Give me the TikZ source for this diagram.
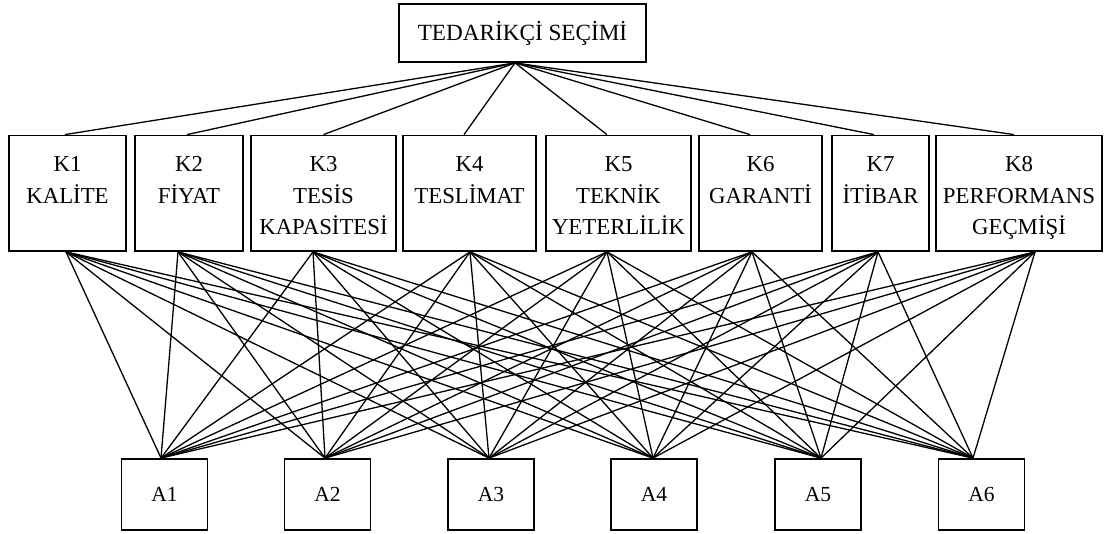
\documentclass[tikz,border=0pt]{standalone}
\usepackage{fontspec}
\setmainfont{Liberation Serif}
\begin{document}
\begin{tikzpicture}[x=1pt,y=-1pt,
  box/.style={draw, line width=1.8pt, inner sep=0pt},
  crit/.style={box, minimum height=115.5pt},
  alt/.style={box, minimum width=86pt, minimum height=71pt, font=\fontsize{21.5}{26}\selectfont},
  lbl/.style={align=center, inner sep=0pt, anchor=base, font=\fontsize{22.8}{31.5}\selectfont},
  link/.style={line width=1.3pt}]
\useasboundingbox (0,0) rectangle (1109,534);
\fill[white] (0,0) rectangle (1109,534);

% goal
\node[box, minimum width=247pt, minimum height=58pt, font=\fontsize{23.2}{28}\selectfont,
      text height=15.5pt, text depth=0pt] (T) at (522.5,33) {TEDARİKÇİ SEÇİMİ};

% criteria boxes
\node[crit, minimum width=117pt] (K1) at (67.5,193.25) {};
\node[crit, minimum width=108pt] (K2) at (189,193.25) {};
\node[crit, minimum width=145pt] (K3) at (323.5,193.25) {};
\node[crit, minimum width=133pt] (K4) at (469.5,193.25) {};
\node[crit, minimum width=145pt] (K5) at (618.5,193.25) {};
\node[crit, minimum width=123pt] (K6) at (760.5,193.25) {};
\node[crit, minimum width=97pt]  (K7) at (880.5,193.25) {};
\node[crit, minimum width=166pt] (K8) at (1019,193.25) {};

% criteria labels
\node[lbl, text width=117pt] (K1t) at (67.5,172) {K1\\KALİTE};
\node[lbl, text width=108pt] (K2t) at (189,172) {K2\\FİYAT};
\node[lbl, text width=145pt] (K3t) at (323.5,172) {K3\\TESİS\\KAPASİTESİ};
\node[lbl, text width=133pt] (K4t) at (469.5,172) {K4\\TESLİMAT};
\node[lbl, text width=145pt] (K5t) at (618.5,172) {K5\\TEKNİK\\YETERLİLİK};
\node[lbl, text width=123pt] (K6t) at (760.5,172) {K6\\GARANTİ};
\node[lbl, text width=97pt]  (K7t) at (880.5,172) {K7\\İTİBAR};
\node[lbl, text width=166pt] (K8t) at (1019,172) {K8\\PERFORMANS\\GEÇMİŞİ};

% alternatives
\node[alt] (A1) at (164.5,494.5) {A1};
\node[alt] (A2) at (327.5,494.5) {A2};
\node[alt] (A3) at (491,494.5) {A3};
\node[alt] (A4) at (654,494.5) {A4};
\node[alt] (A5) at (818,494.5) {A5};
\node[alt] (A6) at (981.5,494.5) {A6};

% goal to criteria
\foreach \k/\dk in {K1/-2.5,K2/-2,K3/0,K4/-5.5,K5/-11.5,K6/-10.5,K7/-6.5,K8/-5}{
  \draw[link] ([xshift=-7.5pt]T.south) -- ([xshift=\dk pt]\k.north);
}

% criteria to alternatives
\foreach \k/\dk in {K1/-1.5,K2/-11,K3/-10.5,K4/0.5,K5/-11.5,K6/-8.5,K7/-2.5,K8/16}{
  \foreach \a/\da in {A1/-3.5,A2/-2.5,A3/-2,A4/-1,A5/3,A6/-8.5}{
    \draw[link] ([xshift=\dk pt]\k.south) -- ([xshift=\da pt]\a.north);
  }
}
\end{tikzpicture}
\end{document}
